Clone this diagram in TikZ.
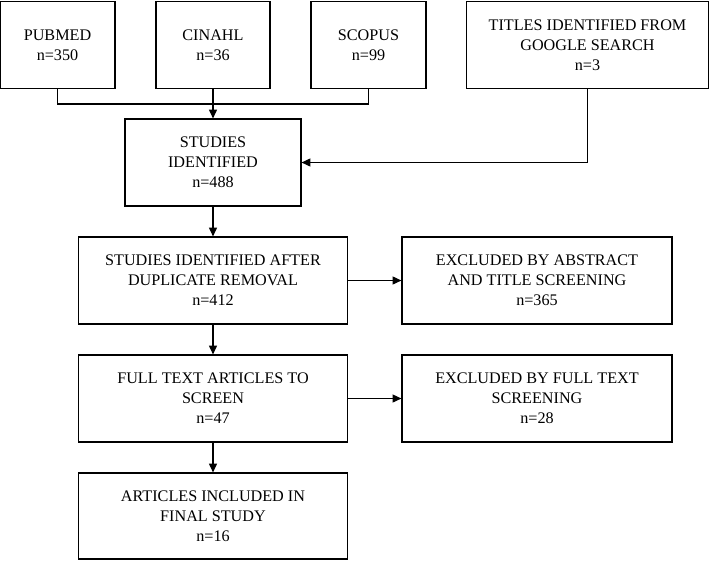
\documentclass[tikz,border=0pt]{standalone}
\usepackage{fontspec}
\setmainfont{Liberation Serif}
\usepackage{tikz}
\usetikzlibrary{arrows.meta}

\begin{document}
\begin{tikzpicture}[
  x=0.025cm, y=-0.025cm,
  font=\fontsize{11.5}{14.2}\selectfont,
  box/.style={draw, line width=0.8pt, inner sep=2pt, minimum height=2.175cm, align=center},
  link/.style={line width=0.8pt},
  flow/.style={line width=0.8pt, -{Triangle[length=2.2mm, width=2mm]}},
]
\useasboundingbox (0,0) rectangle (710,560);
% sources
\node[box, minimum width=2.875cm] (pubmed) at (57.5,45) {PUBMED\\ n=350};
\node[box, minimum width=2.85cm] (cinahl) at (213,45) {CINAHL\\ n=36};
\node[box, minimum width=2.875cm] (scopus) at (368.5,45) {SCOPUS\\ n=99};
\node[box, minimum width=6.05cm] (google) at (587.5,45) {TITLES IDENTIFIED FROM\\ GOOGLE SEARCH\\ n=3};
% main column
\node[box, minimum width=4.4cm] (ident) at (213,162.5) {STUDIES\\ IDENTIFIED\\ n=488};
\node[box, minimum width=6.725cm] (dedup) at (213,280.5) {STUDIES IDENTIFIED AFTER\\ DUPLICATE REMOVAL\\ n=412};
\node[box, minimum width=6.725cm] (fulltext) at (213,398.5) {FULL TEXT ARTICLES TO\\ SCREEN\\ n=47};
\node[box, minimum width=6.725cm, minimum height=2.15cm] (incl) at (213,516) {ARTICLES INCLUDED IN\\ FINAL STUDY\\ n=16};
% exclusions
\node[box, minimum width=6.75cm] (exabs) at (537,280.5) {EXCLUDED BY ABSTRACT\\ AND TITLE SCREENING\\ n=365};
\node[box, minimum width=6.75cm] (exfull) at (537,398.5) {EXCLUDED BY FULL TEXT\\ SCREENING\\ n=28};
% connectors
\coordinate (join) at (213,104);
\draw[link] (pubmed.south) |- (join) -| (scopus.south);
\draw[flow] (cinahl.south) -- (ident.north);
\draw[flow] (google.south) |- (ident.east);
\draw[flow] (ident.south) -- (dedup.north);
\draw[flow] (dedup.south) -- (fulltext.north);
\draw[flow] (fulltext.south) -- (incl.north);
\draw[flow] (dedup.east) -- (exabs.west);
\draw[flow] (fulltext.east) -- (exfull.west);
\end{tikzpicture}
\end{document}
